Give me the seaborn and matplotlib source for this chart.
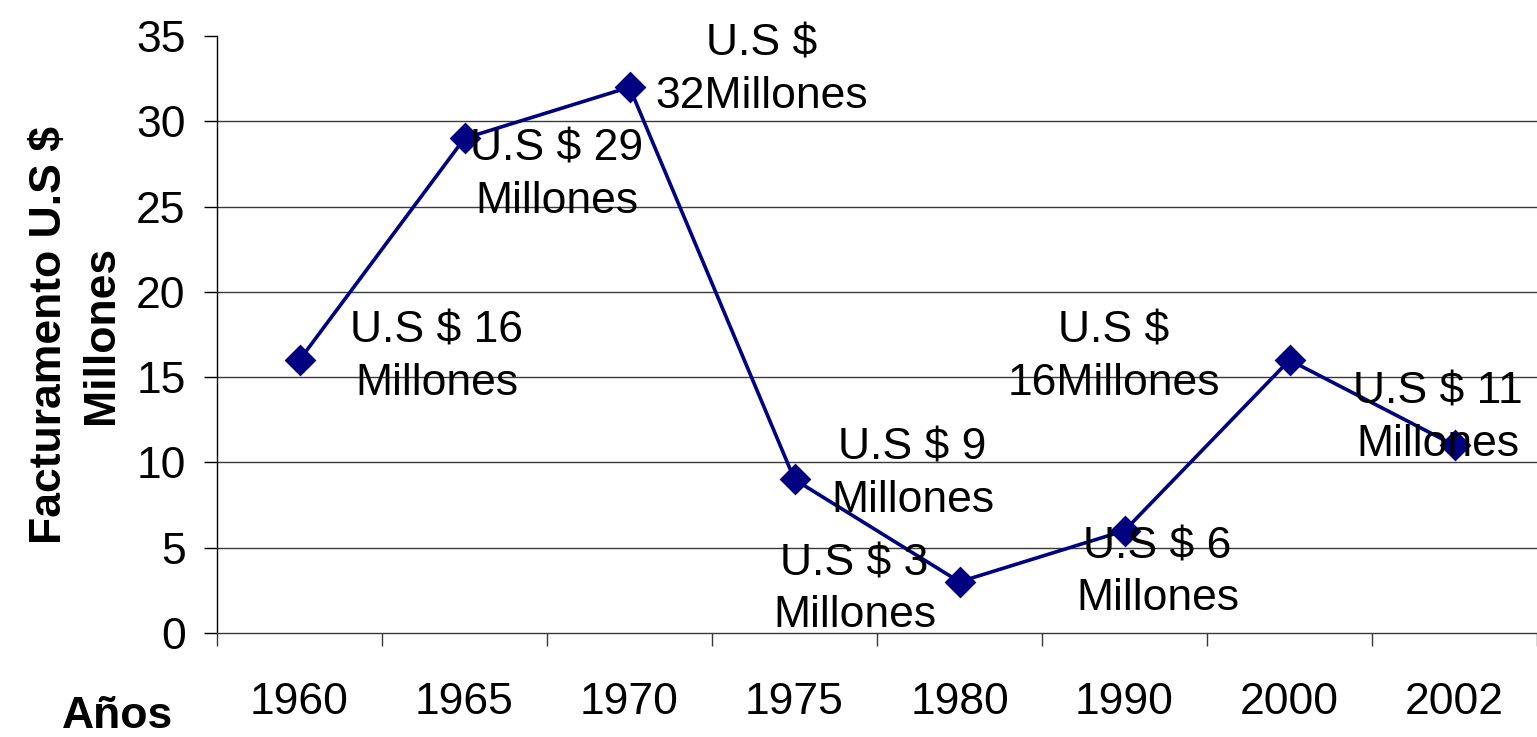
import matplotlib
matplotlib.use("Agg")
import matplotlib.pyplot as plt
import seaborn as sns
import numpy as np

years = ["1960", "1965", "1970", "1975", "1980", "1990", "2000", "2002"]
values = [16, 29, 32, 9, 3, 6, 16, 11]
labels = ["U.S $ 16\nMillones", "U.S $ 29\nMillones", "U.S $\n32Millones",
          "U.S $ 9\nMillones", "U.S $ 3\nMillones", "U.S $ 6\nMillones",
          "U.S $\n16Millones", "U.S $ 11\nMillones"]
# label offsets in pixels (dx, dy) from the point, screen coords (y up)
label_offsets = [(137, 3), (92, -37), (132, 17), (118, 5), (-105, -8), (33, -42), (-176, 3), (-17, 27)]

sns.set_theme(style="white", rc={"text.color": "black", "axes.labelcolor": "black",
                                 "xtick.color": "black", "ytick.color": "black"})
plt.rcParams["font.family"] = ["Liberation Sans", "DejaVu Sans"]

fig = plt.figure(figsize=(15.37, 7.37), dpi=100)
ax = fig.add_axes([217/1537, 104/737, 1 - 217/1537, (633-36)/737])

sns.pointplot(x=years, y=values, color="#000080", markers="D", markersize=14,
              linewidth=2.6, ax=ax, order=years)
for ln in ax.lines:
    ln.set_linewidth(2.6)
    ln.set_markersize(14)

ax.set_ylim(0, 35)
ax.set_xlim(-0.5, len(years) - 0.5)
ax.set_yticks(np.arange(0, 36, 5))
ax.tick_params(axis="y", direction="out", length=9.5, width=1, color="black",
               labelsize=32, pad=13, left=True, labelcolor="black")
for y in range(5, 31, 5):
    ax.axhline(y, color="#3a3a3a", lw=1, zorder=0)

ax.set_xticks(np.arange(-0.5, len(years), 1.0))
ax.set_xticklabels([])
ax.set_xticks(np.arange(len(years)), minor=True)
ax.set_xticklabels(years, minor=True)
ax.tick_params(axis="x", which="major", direction="out", length=9.5, width=1,
               color="#3a3a3a", bottom=True)
ax.tick_params(axis="x", which="minor", length=0, labelsize=32, pad=35,
               labelcolor="black")

for s in ["top", "right"]:
    ax.spines[s].set_visible(False)
ax.spines["left"].set_color("black")
ax.spines["left"].set_linewidth(1)
ax.spines["bottom"].set_color("#3a3a3a")
ax.spines["bottom"].set_linewidth(1)

ax.set_xlabel("")
ax.set_ylabel("Facturamento U.S $\nMillones", fontsize=32, fontweight="bold",
              linespacing=1.35, labelpad=10, color="black")

for i, (lab, (dx, dy)) in enumerate(zip(labels, label_offsets)):
    ax.annotate(lab, xy=(i, values[i]), xytext=(dx * 0.72, dy * 0.72),
                textcoords="offset points", ha="center", va="center",
                multialignment="center", fontsize=32, linespacing=1.35,
                color="black", zorder=5)

fig.text(118/1537, 1 - 716/737, "Años", fontsize=32, fontweight="bold",
         ha="center", va="center", color="black")

fig.savefig("out.png", dpi=100)
